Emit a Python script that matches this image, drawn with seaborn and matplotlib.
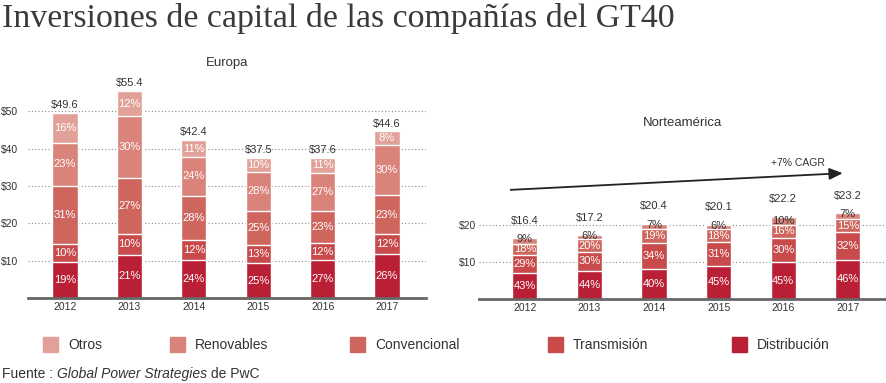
import matplotlib
matplotlib.use("Agg")
import matplotlib.pyplot as plt
from matplotlib.patches import Rectangle
import numpy as np
import pandas as pd
import seaborn as sns

years = ["2012", "2013", "2014", "2015", "2016", "2017"]

# Europa: totales y reparto (%) de abajo a arriba
eu_total = [49.6, 55.4, 42.4, 37.5, 37.6, 44.6]
eu_dist = [19, 21, 24, 25, 27, 26]
eu_trans = [10, 10, 12, 13, 12, 12]
eu_conv = [31, 27, 28, 25, 23, 23]
eu_renov = [23, 30, 24, 28, 27, 30]
eu_otros = [16, 12, 11, 10, 11, 8]

# Norteamérica
na_total = [16.4, 17.2, 20.4, 20.1, 22.2, 23.2]
na_dist = [43, 44, 40, 45, 45, 46]
na_trans = [29, 30, 34, 31, 30, 32]
na_conv = [18, 20, 19, 18, 16, 15]
na_renov = [9, 6, 7, 6, 10, 7]

categories = ["Otros", "Renovables", "Convencional", "Transmisión", "Distribución"]
COLORS = {
    "Otros": "#e2a198",
    "Renovables": "#d9837a",
    "Convencional": "#cf665e",
    "Transmisión": "#c84a4b",
    "Distribución": "#b91f35",
}

TXT = "#333333"
sns.set_style("white")
plt.rcParams["font.family"] = ["Liberation Sans", "DejaVu Sans"]

W, H = 886, 383
fig = plt.figure(figsize=(W / 100, H / 100), dpi=100)


def px_axes(left, right, base, top):
    return fig.add_axes([left / W, (H - base) / H, (right - left) / W, (base - top) / H])


def stacked(ax, totals, parts, names, dark_top=False, lab_pad=3):
    parts = np.array(parts, dtype=float)
    segs = parts / parts.sum(axis=0) * np.array(totals)
    cum = np.cumsum(segs, axis=0)
    df = pd.DataFrame({"year": years})
    # draw from the highest cumulative layer down so each layer covers the next
    for i in range(len(names) - 1, -1, -1):
        df["v"] = cum[i]
        sns.barplot(data=df, x="year", y="v", color=COLORS[names[i]], saturation=1,
                    width=0.39, ax=ax, errorbar=None)
    for j in range(len(years)):
        for i in range(len(names)):
            lo = cum[i - 1][j] if i > 0 else 0
            mid = (lo + cum[i][j]) / 2
            top = i == len(names) - 1
            col = "white"
            if dark_top and top:
                col = TXT
                if segs[i][j] < 2:
                    # thin segment: label sits on the top edge
                    mid = cum[i][j] - 0.3
            ax.text(j, mid, f"{int(parts[i][j])}%", ha="center", va="center",
                    fontsize=8, color=col)
        ax.annotate(f"${totals[j]}", (j, totals[j]), xytext=(0, lab_pad),
                    textcoords="offset points", ha="center", va="bottom",
                    fontsize=8, color=TXT)


def style(ax, ticks, ylim, xlim, title, pad, tickpad):
    ax.set_ylim(*ylim)
    ax.set_xlim(*xlim)
    ax.set_yticks(ticks)
    ax.set_yticklabels([f"${t}" for t in ticks], fontsize=7.5, color=TXT)
    ax.tick_params(axis="y", length=0, pad=tickpad)
    ax.tick_params(axis="x", length=0, pad=3, labelsize=7.5, labelcolor=TXT)
    ax.set_xlabel("")
    ax.set_ylabel("")
    for t in ticks:
        ax.axhline(t, color="#8a8a8a", lw=0.8, ls=(0, (1, 2)), zorder=0)
    for s in ["top", "right", "left"]:
        ax.spines[s].set_visible(False)
    ax.spines["bottom"].set_color("#666666")
    ax.spines["bottom"].set_linewidth(2)
    ax.set_title(title, fontsize=9.5, color=TXT, pad=pad)
    ax.set_axisbelow(True)


ax1 = px_axes(28, 426, 298, 74)
stacked(ax1, eu_total, [eu_dist, eu_trans, eu_conv, eu_renov, eu_otros],
        ["Distribución", "Transmisión", "Convencional", "Renovables", "Otros"], lab_pad=2)
style(ax1, [10, 20, 30, 40, 50], (0, 60), (-0.575, 5.606), "Europa", 6, 7)

ax2 = px_axes(479, 886, 299, 151)
stacked(ax2, na_total, [na_dist, na_trans, na_conv, na_renov],
        ["Distribución", "Transmisión", "Convencional", "Renovables"], dark_top=True, lab_pad=9)
style(ax2, [10, 20], (0, 40), (-0.71, 5.59), "Norteamérica", 18, 2)

ax2.annotate("", xy=(4.92, 34.0), xytext=(-0.22, 29.5),
             arrowprops=dict(arrowstyle="-|>,head_length=0.8,head_width=0.35",
                             lw=1.3, color="#222222", shrinkA=0, shrinkB=0))
ax2.text(4.23, 35.3, "+7% CAGR", ha="center", va="bottom", fontsize=7.5, color=TXT)

fig.text(2 / W, (H - 27) / H, "Inversiones de capital de las compañías del GT40",
         family=["Liberation Serif", "DejaVu Serif"], fontsize=24.4, color="#3a3a3a",
         va="baseline", ha="left")

# leyenda
leg_x = [43, 170, 350, 548, 732]
for x, name in zip(leg_x, categories):
    fig.patches.append(Rectangle((x / W, (H - 352) / H), 15 / W, 15 / H,
                                 transform=fig.transFigure, color=COLORS[name]))
    fig.text((x + 25) / W, (H - 345) / H, name, fontsize=10, color=TXT, va="center")

t1 = fig.text(2 / W, (H - 378) / H, "Fuente : ", fontsize=10, color=TXT, va="baseline")
t2 = fig.text(0, 0, "Global Power Strategies", fontsize=10, color=TXT, style="italic",
              va="baseline")
fig.canvas.draw()
r = fig.canvas.get_renderer()
bb = t1.get_window_extent(r)
t2.set_position((bb.x1 / W, (H - 378) / H))
bb2 = t2.get_window_extent(r)
fig.text(bb2.x1 / W, (H - 378) / H, " de PwC", fontsize=10, color=TXT, va="baseline")

fig.savefig("out.png", dpi=100)
